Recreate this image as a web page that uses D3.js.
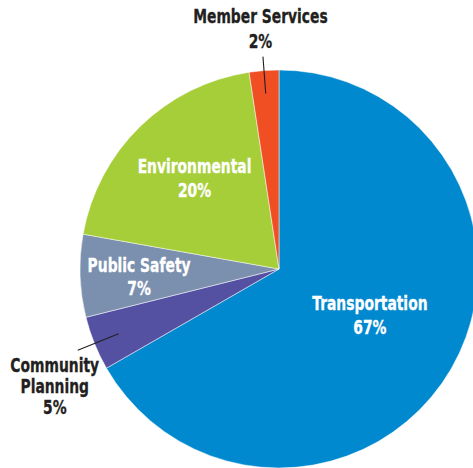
<!DOCTYPE html>
<html>
<head>
<meta charset="utf-8">
<script src="https://cdn.jsdelivr.net/npm/d3@7"></script>
<style>
  body { margin: 0; background: #fff; }
  svg text { font-family: "DejaVu Sans", sans-serif; font-weight: bold; font-size: 19px; }
</style>
</head>
<body>
<div id="chart"></div>
<script>
// categories, clockwise from 12 o'clock
var categories = ["Transportation", "Community Planning", "Public Safety", "Environmental", "Member Services"];
// shares as measured off the slice angles
var shares = [66.7, 4.4, 6.7, 19.8, 2.4];
// printed labels
var pctLabels = ["67%", "5%", "7%", "20%", "2%"];
var colors = ["#0089cf", "#5450a2", "#7b8fae", "#a6ce39", "#f04e23"];

var width = 473, height = 468;
var cx = 279, cy = 269, radius = 199;
// the original uses a condensed face; squeeze DejaVu horizontally
var squeeze = 0.73;

var svg = d3.select("#chart").append("svg")
    .attr("width", width)
    .attr("height", height);

var g = svg.append("g").attr("transform", "translate(" + cx + "," + cy + ")");

var pie = d3.pie().sort(null).value(function(d) { return d; });
var arcs = pie(shares);

var arc = d3.arc().innerRadius(0).outerRadius(radius);

g.selectAll("path.slice")
    .data(arcs)
    .enter().append("path")
    .attr("class", "slice")
    .attr("d", arc)
    .style("fill", function(d, i) { return colors[i]; })
    .style("stroke", "#fff")
    .style("stroke-width", 0.5);

var labelCfg = [
    { inside: true, r: 105, lines: ["Transportation"], dy: -12, lh: 24 },
    { inside: false, r0: 173, r1: 217, lines: ["Community", "Planning"], dx: -23, dy: 22, lh: 21 },
    { inside: true, r: 140, lines: ["Public Safety"], dy: -2, lh: 23 },
    { inside: true, r: 121, lines: ["Environmental"], dy: -9, lh: 24 },
    { inside: false, r0: 176, r1: 213, lines: ["Member Services"], dx: -2.5, dy: -34, lh: 25 }
];

function polar(a, r) {
    return [Math.sin(a) * r, -Math.cos(a) * r];
}

arcs.forEach(function(d, i) {
    var cfg = labelCfg[i];
    var mid = (d.startAngle + d.endAngle) / 2;
    var lines = cfg.lines.concat([pctLabels[i]]);
    var x, y, fill;
    if (cfg.inside) {
        var p = polar(mid, cfg.r);
        x = p[0];
        y = p[1] + cfg.dy;
        fill = "#fff";
    } else {
        var a = polar(mid, cfg.r0), b = polar(mid, cfg.r1);
        g.append("line")
            .attr("x1", a[0]).attr("y1", a[1])
            .attr("x2", b[0]).attr("y2", b[1])
            .style("stroke", "#231f20")
            .style("stroke-width", 1.1);
        x = b[0] + cfg.dx;
        y = b[1] + cfg.dy;
        fill = "#231f20";
    }
    var t = g.append("g")
        .attr("transform", "translate(" + x + "," + y + ") scale(" + squeeze + ",1)")
        .append("text")
        .attr("text-anchor", "middle")
        .style("fill", fill)
        .style("stroke", fill)
        .style("stroke-width", 0.35);
    lines.forEach(function(s, k) {
        t.append("tspan")
            .attr("x", 0)
            .attr("y", k * cfg.lh)
            .text(s);
    });
});
</script>
</body>
</html>
